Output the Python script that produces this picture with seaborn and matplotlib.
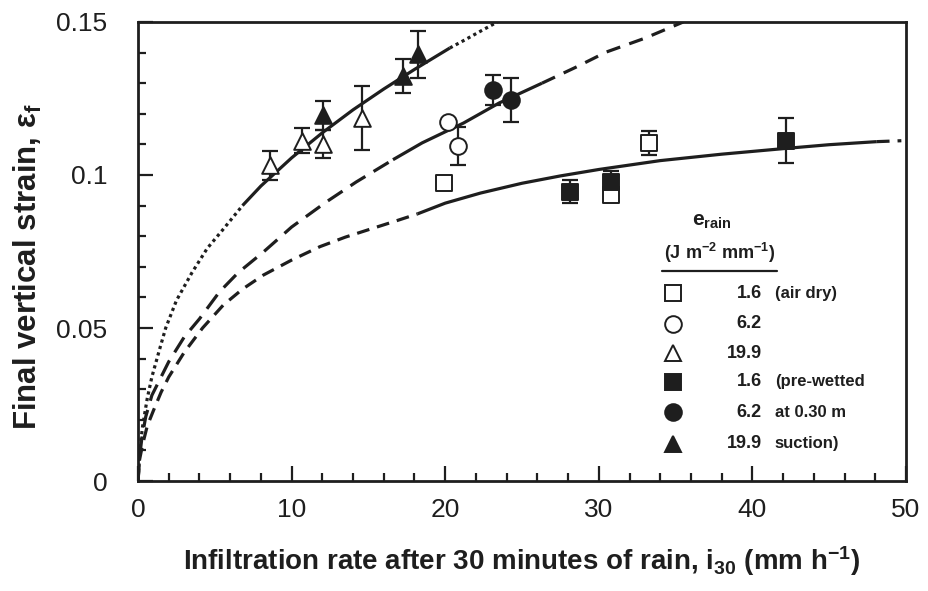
import matplotlib
matplotlib.use("Agg")
import matplotlib.pyplot as plt
import matplotlib.ticker as mticker
import pandas as pd
import seaborn as sns

# ---------------- data ----------------
# fitted curves (x = infiltration rate i30, y = final strain)
c1_lo_x = [0, 0.1, 0.3, 0.6, 0.9, 1.4, 1.8, 2.5, 3.5, 4.5, 5.5, 6.8]
c1_lo_y = [0, 0.010, 0.018, 0.027, 0.034, 0.043, 0.050, 0.059, 0.068, 0.076, 0.082, 0.090]
c1_mid_x = [6.8, 8, 10, 12, 14, 16, 18, 20.3]
c1_mid_y = [0.090, 0.0964, 0.1056, 0.1138, 0.1213, 0.1281, 0.1345, 0.1415]
c1_hi_x = [20.3, 21.3, 22.3, 23.4]
c1_hi_y = [0.1415, 0.1442, 0.1470, 0.150]

c2_lo_x = [0, 0.1, 0.25, 0.5, 0.9, 1.5, 2.0, 3.0, 4.0, 5.3, 6.5, 8.2, 10, 12.2, 14.2, 16.6]
c2_lo_y = [0, 0.008, 0.014, 0.021, 0.028, 0.034, 0.039, 0.047, 0.053, 0.0618, 0.068, 0.075,
           0.083, 0.091, 0.0977, 0.105]
c2_mid_x = [16.6, 18.5, 21.2, 23.5, 26.3]
c2_mid_y = [0.105, 0.1105, 0.117, 0.1235, 0.130]
c2_hi_x = [26.3, 28.5, 30.5, 33, 35.5]
c2_hi_y = [0.130, 0.1352, 0.1402, 0.1447, 0.150]

c3_lo_x = [0, 0.1, 0.3, 0.6, 1.0, 1.5, 2.0, 3.0, 4.2, 5.55, 6.8, 8.16, 10, 11.85, 13.5, 15.3,
           16.8, 18.2]
c3_lo_y = [0, 0.007, 0.012, 0.018, 0.023, 0.029, 0.034, 0.042, 0.050, 0.0575, 0.0627, 0.0673,
           0.0722, 0.0766, 0.0797, 0.0826, 0.0850, 0.0873]
c3_mid_x = [18.2, 20, 22.3, 25, 27.5, 30, 34, 38, 42.2, 45, 48.1]
c3_mid_y = [0.0873, 0.0908, 0.0941, 0.0973, 0.0997, 0.1018, 0.1047, 0.1068, 0.1087, 0.1099, 0.1109]
c3_hi_x = [48.1, 49.7]
c3_hi_y = [0.1109, 0.1112]

# measured points with error bars
open_sq_x = [19.9, 30.8, 33.3]
open_sq_y = [0.0973, 0.0935, 0.1104]
open_sq_e = [0, 0, 0.004]
open_ci_x = [20.2, 20.85]
open_ci_y = [0.1174, 0.1096]
open_ci_e = [0, 0.0062]
open_tr_x = [8.59, 10.66, 12.06, 14.56]
open_tr_y = [0.1032, 0.1112, 0.1102, 0.1187]
open_tr_e = [0.0048, 0.004, 0.0045, 0.0105]
fill_sq_x = [28.1, 30.8, 42.2]
fill_sq_y = [0.0946, 0.0978, 0.1112]
fill_sq_e = [0.0038, 0.0035, 0.0074]
fill_ci_x = [23.1, 24.3]
fill_ci_y = [0.1278, 0.1245]
fill_ci_e = [0.0048, 0.0072]
fill_tr_x = [12.06, 17.27, 18.25]
fill_tr_y = [0.1195, 0.1323, 0.1394]
fill_tr_e = [0.0048, 0.0056, 0.0078]

legend_values = ["1.6", "6.2", "19.9", "1.6", "6.2", "19.9"]
legend_notes = ["(air dry)", "", "", "(pre-wetted", "at 0.30 m", "suction)"]

x_ticks = [0, 10, 20, 30, 40, 50]
y_ticks = [0, 0.05, 0.1, 0.15]
y_tick_labels = ["0", "0.05", "0.1", "0.15"]

# ---------------- style ----------------
sns.set_theme(style="white")
plt.rcParams["font.family"] = ["Liberation Sans", "DejaVu Sans"]
plt.rcParams["mathtext.fontset"] = "custom"
plt.rcParams["mathtext.rm"] = "Liberation Sans:bold"
plt.rcParams["mathtext.it"] = "Liberation Sans:italic:bold"
plt.rcParams["mathtext.default"] = "rm"

INK = "#1e1e1e"
fig = plt.figure(figsize=(9.29, 5.91), dpi=100)
ax = fig.add_axes([0.1486, 0.1861, 0.9752 - 0.1486, 0.9628 - 0.1861])

LW = 2.3
segments = [
    (c1_lo_x, c1_lo_y, (1.0, 1.1)),
    (c1_mid_x, c1_mid_y, None),
    (c1_hi_x, c1_hi_y, (1.0, 1.1)),
    (c2_lo_x, c2_lo_y, (5.5, 3.0)),
    (c2_mid_x, c2_mid_y, None),
    (c2_hi_x, c2_hi_y, (4.5, 3.0)),
    (c3_lo_x, c3_lo_y, (4.0, 2.5)),
    (c3_mid_x, c3_mid_y, None),
    (c3_hi_x, c3_hi_y, (4.0, 2.5)),
]
for xs, ys, dash in segments:
    df = pd.DataFrame({"x": xs, "y": ys})
    sns.lineplot(data=df, x="x", y="y", ax=ax, color=INK, lw=LW,
                 estimator=None, sort=False, zorder=2)
    l = ax.lines[-1]
    if dash is not None:
        l.set_dashes(dash)
    l.set_solid_capstyle("butt")
    l.set_dash_capstyle("butt")

series = [
    (open_sq_x, open_sq_y, open_sq_e, "s", "white", 11),
    (open_ci_x, open_ci_y, open_ci_e, "o", "white", 12),
    (open_tr_x, open_tr_y, open_tr_e, "^", "white", 12),
    (fill_sq_x, fill_sq_y, fill_sq_e, "s", INK, 11),
    (fill_ci_x, fill_ci_y, fill_ci_e, "o", INK, 12),
    (fill_tr_x, fill_tr_y, fill_tr_e, "^", INK, 12),
]
for xs, ys, es, mk, fc, ms in series:
    xe = [x for x, e in zip(xs, es) if e > 0]
    ye = [y for y, e in zip(ys, es) if e > 0]
    ee = [e for e in es if e > 0]
    if ee:
        ax.errorbar(xe, ye, yerr=ee, fmt="none", ecolor=INK, elinewidth=1.6,
                    capsize=6, capthick=1.6, zorder=3)
    df = pd.DataFrame({"x": xs, "y": ys})
    sns.scatterplot(data=df, x="x", y="y", ax=ax, marker=mk, s=ms ** 2,
                    facecolor=fc, edgecolor=INK, linewidth=1.4, zorder=4)

# ---------------- axes ----------------
ax.set_xlim(0, 50)
ax.set_ylim(0, 0.15)
ax.set_xticks(x_ticks)
ax.set_xticklabels([str(t) for t in x_ticks])
ax.set_yticks(y_ticks)
ax.set_yticklabels(y_tick_labels)
ax.xaxis.set_minor_locator(mticker.MultipleLocator(2))
ax.yaxis.set_minor_locator(mticker.MultipleLocator(0.01))
ax.tick_params(which="both", direction="in", top=False, right=False,
               bottom=True, left=True, color=INK, width=1.6)
ax.tick_params(which="major", length=11, labelsize=19, labelcolor=INK)
ax.tick_params(axis="x", which="major", pad=12)
ax.tick_params(axis="y", which="major", pad=22)
ax.tick_params(which="minor", length=6)
for sp in ax.spines.values():
    sp.set_color(INK)
    sp.set_linewidth(2.0)

ax.set_xlabel(r"Infiltration rate after 30 minutes of rain, i$_{30}$ (mm h$^{-1}$)",
              fontsize=20, fontweight="bold", color=INK, labelpad=16)
ax.set_ylabel(r"Final vertical strain, $\varepsilon_{f}$", fontsize=22.5,
              fontweight="bold", color=INK)
ax.yaxis.set_label_coords(-0.122, 0.466)

# ---------------- legend (drawn manually) ----------------
T = ax.transAxes
ax.text(0.747, 0.565, r"e$_{\mathregular{rain}}$", transform=T, ha="center", va="center",
        fontsize=15, fontweight="bold", color=INK)
ax.text(0.757, 0.496, r"(J m$^{-2}$ mm$^{-1}$)", transform=T, ha="center", va="center",
        fontsize=13, fontweight="bold", color=INK)
ax.plot([0.682, 0.832], [0.458, 0.458], transform=T, color=INK, lw=1.6)
row_y = [0.409, 0.343, 0.278, 0.216, 0.150, 0.081]
leg_markers = [("s", "white", 11), ("o", "white", 12), ("^", "white", 12),
               ("s", INK, 11), ("o", INK, 12), ("^", INK, 12)]
for yy, (mk, fc, ms), val, note in zip(row_y, leg_markers, legend_values, legend_notes):
    ax.plot([0.697], [yy], transform=T, marker=mk, ms=ms, mfc=fc, mec=INK, mew=1.4,
            ls="none", clip_on=False)
    ax.text(0.8125, yy, val, transform=T, ha="right", va="center", fontsize=13,
            fontweight="bold", color=INK)
    if note:
        ax.text(0.829, yy, note, transform=T, ha="left", va="center", fontsize=12,
                fontweight="bold", color=INK)

fig.savefig("out.png", dpi=100)
